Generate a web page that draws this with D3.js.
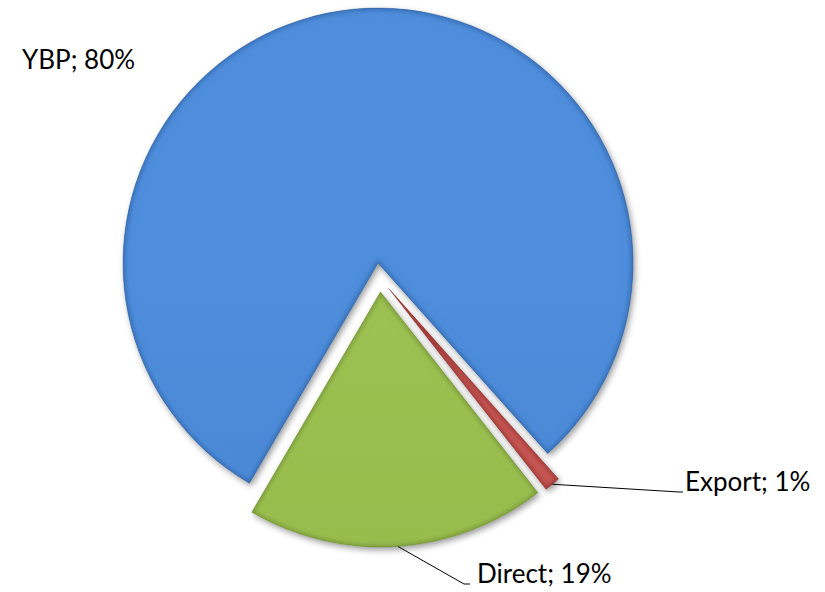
<!DOCTYPE html>
<html>
<head>
<meta charset="utf-8">
<script src="https://cdn.jsdelivr.net/npm/d3@7"></script>
<style>
  html, body { margin: 0; padding: 0; background: #ffffff; }
  svg { display: block; }
  .lbl { font-family: Lato, "Open Sans", sans-serif; font-size: 26px; fill: #000; }
</style>
</head>
<body>
<svg id="chart" width="825" height="592"></svg>
<script>
// Sales channel split
const categories = ["YBP", "Export", "Direct"];
const shares = [80, 1, 19];
const labels = ["YBP; 80%", "Export; 1%", "Direct; 19%"];
const baseColors = ["#4a86d2", "#c0504d", "#97bb4b"];
const topColors = ["#4f8edc", "#c95a56", "#9dc152"];
const bottomColors = ["#3f77c0", "#a9403d", "#87a843"];
const edgeColors = ["#24508e", "#7a2321", "#5e7a26"];

const W = 825, H = 592;
const cx = 379.5, cy = 277.5, R = 255, explode = 14.5;
const startDeg = 210.3;

const svg = d3.select("#chart");
const defs = svg.append("defs");

// soft drop shadow under each slice
const sh = defs.append("filter").attr("id", "shadow")
  .attr("x", "-20%").attr("y", "-20%").attr("width", "140%").attr("height", "140%");
sh.append("feDropShadow").attr("dx", 2).attr("dy", 3)
  .attr("stdDeviation", 3).attr("flood-color", "#000").attr("flood-opacity", 0.4);

const soft = defs.append("filter").attr("id", "soft")
  .attr("x", "-10%").attr("y", "-10%").attr("width", "120%").attr("height", "120%");
soft.append("feGaussianBlur").attr("stdDeviation", 2.2);

categories.forEach((c, i) => {
  const g = defs.append("linearGradient").attr("id", "grad" + i)
    .attr("gradientUnits", "userSpaceOnUse")
    .attr("x1", 0).attr("y1", cy - R).attr("x2", 0).attr("y2", cy + R);
  g.append("stop").attr("offset", "0%").attr("stop-color", topColors[i]);
  g.append("stop").attr("offset", "55%").attr("stop-color", baseColors[i]);
  g.append("stop").attr("offset", "100%").attr("stop-color", bottomColors[i]);
});

const pie = d3.pie().sort(null).value(d => d)
  .startAngle(startDeg * Math.PI / 180)
  .endAngle((startDeg + 360) * Math.PI / 180);
const arcs = pie(shares);
const arc = d3.arc().innerRadius(0).outerRadius(R);

function offsetOf(a) {
  const m = (a.startAngle + a.endAngle) / 2;
  return [explode * Math.sin(m), -explode * Math.cos(m)];
}

const root = svg.append("g").attr("transform", `translate(${cx},${cy})`);

arcs.forEach((a, i) => {
  const [dx, dy] = offsetOf(a);
  const d = arc(a);
  const g = root.append("g").attr("transform", `translate(${dx},${dy})`);
  defs.append("clipPath").attr("id", "clip" + i)
    .attr("transform", `translate(${cx + dx},${cy + dy})`)
    .append("path").attr("d", d);

  g.append("path").attr("d", d)
    .attr("fill", `url(#grad${i})`)
    .attr("filter", "url(#shadow)");

  // bevelled rim: light band inside, darker outline at the very edge
  const rim = g.append("g").attr("clip-path", `url(#clip${i})`)
    .attr("transform", `translate(${-cx - dx},${-cy - dy})`)
    .append("g").attr("transform", `translate(${cx + dx},${cy + dy})`);
  rim.append("path").attr("d", d)
    .attr("fill", "none").attr("stroke", topColors[i])
    .attr("stroke-width", 14).attr("opacity", 0.55).attr("filter", "url(#soft)");
  rim.append("path").attr("d", d)
    .attr("fill", "none").attr("stroke", edgeColors[i])
    .attr("stroke-width", 4).attr("opacity", 0.55).attr("filter", "url(#soft)");
  g.append("path").attr("d", d)
    .attr("fill", "none").attr("stroke", edgeColors[i])
    .attr("stroke-width", 0.8).attr("opacity", 0.5);
});

// leader lines start on the outer arc at each slice's middle angle
function outerMid(a) {
  const m = (a.startAngle + a.endAngle) / 2;
  const [dx, dy] = offsetOf(a);
  return [cx + dx + R * Math.sin(m), cy + dy - R * Math.cos(m)];
}

const labelPos = [
  { x: 22, y: 69, leader: null },
  { x: 685, y: 491, leader: [[679, 492], [683, 492]] },
  { x: 477, y: 583, leader: [[464, 584], [470, 584]] }
];

arcs.forEach((a, i) => {
  const p = labelPos[i];
  if (p.leader) {
    const pts = [outerMid(a)].concat(p.leader);
    svg.append("path")
      .attr("d", d3.line()(pts))
      .attr("fill", "none").attr("stroke", "#000").attr("stroke-width", 1);
  }
  svg.append("text").attr("class", "lbl")
    .attr("x", p.x).attr("y", p.y).text(labels[i]);
});
</script>
</body>
</html>
